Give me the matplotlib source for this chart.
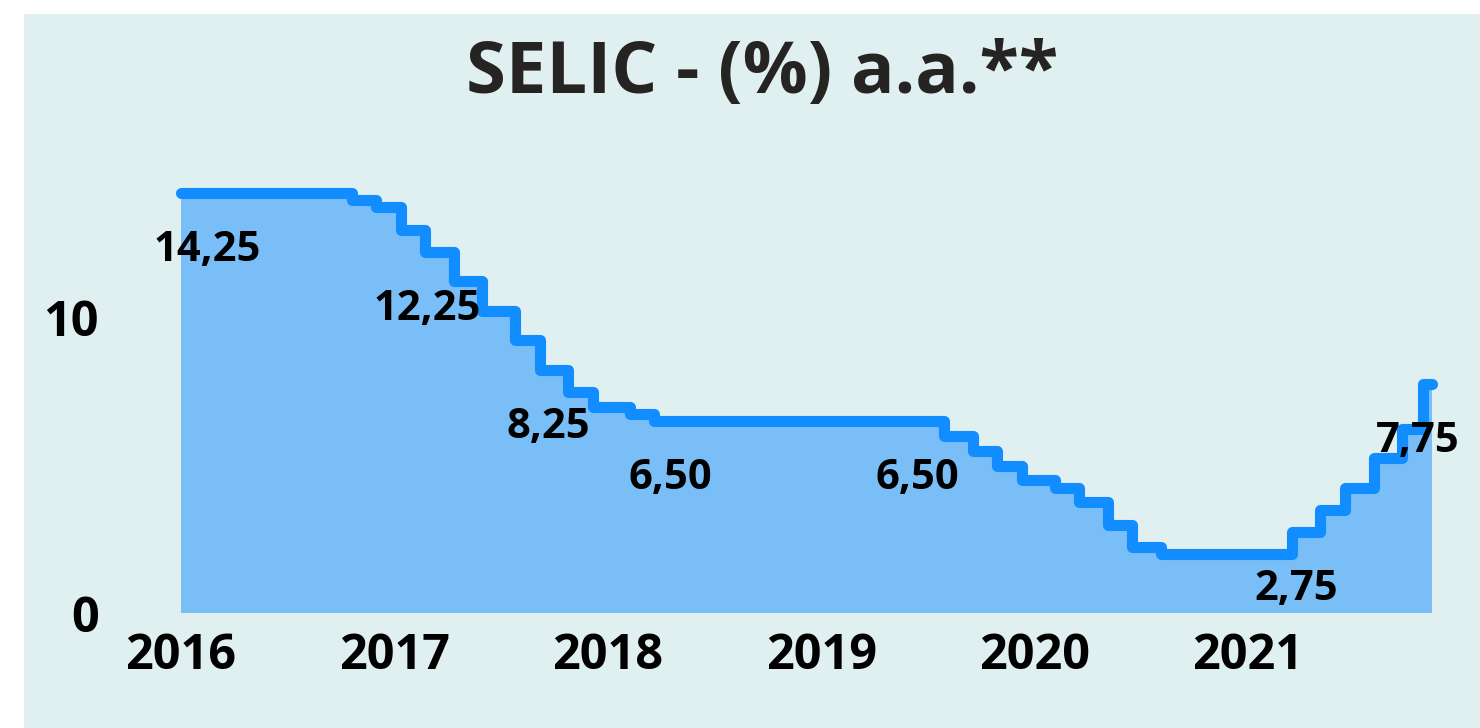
import matplotlib
matplotlib.use("Agg")
import matplotlib.pyplot as plt
import matplotlib.dates as mdates
import pandas as pd

# SELIC rate changes (COPOM decisions), % a.a.
dates = ["2016-01-01", "2016-10-19", "2016-11-30", "2017-01-11", "2017-02-22",
         "2017-04-12", "2017-05-31", "2017-07-26", "2017-09-06", "2017-10-25",
         "2017-12-06", "2018-02-07", "2018-03-21", "2019-07-31", "2019-09-18",
         "2019-10-30", "2019-12-11", "2020-02-05", "2020-03-18", "2020-05-06",
         "2020-06-17", "2020-08-05", "2021-03-17", "2021-05-05", "2021-06-16",
         "2021-08-04", "2021-09-22", "2021-10-27", "2021-11-12"]
rates = [14.25, 14.00, 13.75, 13.00, 12.25,
         11.25, 10.25, 9.25, 8.25, 7.50,
         7.00, 6.75, 6.50, 6.00, 5.50,
         5.00, 4.50, 4.25, 3.75, 3.00,
         2.25, 2.00, 2.75, 3.50, 4.25,
         5.25, 6.25, 7.75, 7.75]

# data labels shown on the chart
label_dates = ["2016-02-15", "2017-02-25", "2017-09-21", "2018-04-17",
               "2019-06-15", "2021-03-25", "2021-10-18"]
label_values = [14.25, 12.25, 8.25, 6.50, 6.50, 2.75, 7.75]

years = [2016, 2017, 2018, 2019, 2020, 2021]

x = pd.to_datetime(dates)
lx = pd.to_datetime(label_dates)

W, H = 1480, 728
fig = plt.figure(figsize=(W / 100, H / 100), dpi=100, facecolor="white")
plt.rcParams["font.family"] = ["Open Sans", "DejaVu Sans"]

# light panel behind the chart
panel = plt.Rectangle((24 / W, 0), 1 - 24 / W, 1 - 14 / H,
                      transform=fig.transFigure, facecolor="#e0eff0",
                      edgecolor="none", zorder=-10)
fig.add_artist(panel)

ax = fig.add_axes([181 / W, 1 - 613 / H, 1251 / W, 472 / H])
ax.set_facecolor("none")

ax.fill_between(x, rates, step="post", color="#79bef7", linewidth=0, zorder=1)
ax.step(x, rates, where="post", color="#118dff", linewidth=8,
        solid_capstyle="round", solid_joinstyle="round", clip_on=False, zorder=2)

for d, v in zip(lx, label_values):
    ax.annotate(f"{v:.2f}".replace(".", ","), (d, v), xytext=(0, -49),
                textcoords="offset points", ha="center", va="baseline",
                fontsize=30, fontweight="bold", color="black", zorder=3)

ax.set_xlim(x[0], x[-1])
ax.set_ylim(0, 16)
ax.set_xticks(pd.to_datetime([f"{y}-01-01" for y in years]))
ax.xaxis.set_major_formatter(mdates.DateFormatter("%Y"))
ax.set_yticks([0, 10])
ax.tick_params(length=0, labelsize=35, labelcolor="black")
ax.tick_params(axis="x", pad=14)
ax.tick_params(axis="y", pad=59)
for lab in ax.get_xticklabels() + ax.get_yticklabels():
    lab.set_fontweight("bold")
for s in ax.spines.values():
    s.set_visible(False)

fig.text(762 / W, 1 - 93 / H, "SELIC - (%) a.a.**", ha="center", va="baseline",
         fontsize=52, fontweight="bold", color="#252423")

fig.savefig("out.png", dpi=100, facecolor=fig.get_facecolor())
